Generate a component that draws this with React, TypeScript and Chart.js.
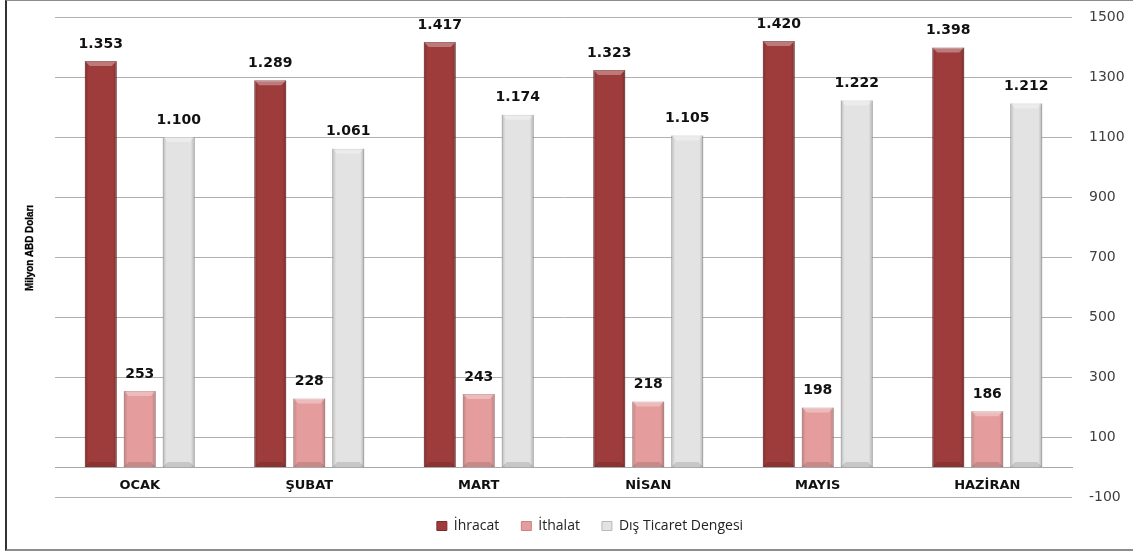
import React, { useEffect, useRef } from "react";
import { Chart, registerables } from "chart.js";

Chart.register(...registerables);

const categories = ["OCAK", "ŞUBAT", "MART", "NİSAN", "MAYIS", "HAZİRAN"];
const ihracat = [1353, 1289, 1417, 1323, 1420, 1398];
const ithalat = [253, 228, 243, 218, 198, 186];
const disTicaretDengesi = [1100, 1061, 1174, 1105, 1222, 1212];
const seriesNames = ["İhracat", "İthalat", "Dış Ticaret Dengesi"];
const yTicks = [-100, 100, 300, 500, 700, 900, 1100, 1300, 1500];
const yTitle = "Milyon ABD Doları";

const fmt = (v: number) => {
  const s = Math.abs(v).toString();
  const parts: string[] = [];
  for (let i = s.length; i > 0; i -= 3) parts.unshift(s.slice(Math.max(0, i - 3), i));
  return (v < 0 ? "-" : "") + parts.join(".");
};

const bevelPlugin = {
  id: "bevel",
  afterDatasetsDraw(chart: any) {
    const ctx = chart.ctx;
    chart.data.datasets.forEach((_ds: any, di: number) => {
      const meta = chart.getDatasetMeta(di);
      meta.data.forEach((bar: any) => {
        const { x, y, base, width } = bar.getProps(["x", "y", "base", "width"], true);
        const l = x - width / 2;
        const r = x + width / 2;
        const t = Math.min(y, base);
        const b = Math.max(y, base);
        const bv = 5;
        ctx.save();
        const g = ctx.createLinearGradient(l, 0, r, 0);
        g.addColorStop(0, "rgba(0,0,0,0.18)");
        g.addColorStop(0.12, "rgba(0,0,0,0.0)");
        g.addColorStop(0.88, "rgba(0,0,0,0.0)");
        g.addColorStop(1, "rgba(0,0,0,0.22)");
        ctx.fillStyle = g;
        ctx.fillRect(l, t, width, b - t);
        ctx.beginPath();
        ctx.moveTo(l, t);
        ctx.lineTo(r, t);
        ctx.lineTo(r - bv, t + bv);
        ctx.lineTo(l + bv, t + bv);
        ctx.closePath();
        ctx.fillStyle = "rgba(255,255,255,0.32)";
        ctx.fill();
        ctx.beginPath();
        ctx.moveTo(l, b);
        ctx.lineTo(r, b);
        ctx.lineTo(r - bv, b - bv);
        ctx.lineTo(l + bv, b - bv);
        ctx.closePath();
        ctx.fillStyle = "rgba(0,0,0,0.12)";
        ctx.fill();
        ctx.restore();
      });
    });
  },
};

const labelPlugin = {
  id: "valueLabels",
  afterDatasetsDraw(chart: any) {
    const ctx = chart.ctx;
    ctx.save();
    ctx.font = "bold 14px 'DejaVu Sans', sans-serif";
    ctx.fillStyle = "#111111";
    ctx.textAlign = "center";
    ctx.textBaseline = "middle";
    chart.data.datasets.forEach((ds: any, di: number) => {
      const meta = chart.getDatasetMeta(di);
      meta.data.forEach((bar: any, i: number) => {
        const { x, y } = bar.getProps(["x", "y"], true);
        ctx.fillText(fmt(ds.data[i]), x, y - 17);
      });
    });
    ctx.restore();
  },
};

const yTitlePlugin = {
  id: "yTitle",
  afterDraw(chart: any) {
    const ctx = chart.ctx;
    const ca = chart.chartArea;
    ctx.save();
    ctx.translate(30, (ca.top + ca.bottom) / 2 - 9);
    ctx.rotate(-Math.PI / 2);
    ctx.font = "bold 11.5px 'Liberation Sans', Arial, sans-serif";
    const w = ctx.measureText(yTitle).width;
    ctx.scale(86 / w, 1);
    ctx.fillStyle = "#000000";
    ctx.strokeStyle = "#000000";
    ctx.lineWidth = 0.35;
    ctx.textAlign = "center";
    ctx.textBaseline = "middle";
    ctx.fillText(yTitle, 0, 0);
    ctx.strokeText(yTitle, 0, 0);
    ctx.restore();
  },
};

export default function App() {
  const ref = useRef<HTMLCanvasElement | null>(null);
  useEffect(() => {
    if (!ref.current) return;
    const chart = new Chart(ref.current, {
      type: "bar",
      data: {
        labels: categories,
        datasets: [
          {
            label: seriesNames[0],
            data: ihracat,
            backgroundColor: "#9E3B3B",
            borderColor: "#7C2C2C",
            borderWidth: 1,
            categoryPercentage: 0.69,
            barPercentage: 0.82,
          },
          {
            label: seriesNames[1],
            data: ithalat,
            backgroundColor: "#E49C9C",
            borderColor: "#C88383",
            borderWidth: 1,
            categoryPercentage: 0.69,
            barPercentage: 0.82,
          },
          {
            label: seriesNames[2],
            data: disTicaretDengesi,
            backgroundColor: "#E3E3E3",
            borderColor: "#B9B9B9",
            borderWidth: 1,
            categoryPercentage: 0.69,
            barPercentage: 0.82,
          },
        ],
      },
      options: {
        responsive: false,
        animation: false,
        layout: { padding: { left: 55, right: 8, top: 17, bottom: 8 } },
        plugins: {
          tooltip: { enabled: false },
          legend: {
            position: "bottom",
            labels: {
              boxWidth: 10,
              boxHeight: 9,
              padding: 22,
              color: "#222222",
              font: { family: "'Open Sans', sans-serif", size: 14 },
            },
          },
        },
        scales: {
          x: {
            position: { y: 0 } as any,
            grid: { display: false, drawTicks: false },
            border: { display: true, color: "#A8A8A8", width: 1 },
            ticks: {
              padding: 11,
              color: "#111111",
              font: { family: "'DejaVu Sans', sans-serif", size: 13, weight: "bold" },
            },
          },
          y: {
            position: "right",
            min: -100,
            max: 1500,
            afterBuildTicks: (axis: any) => {
              axis.ticks = yTicks.map((v) => ({ value: v }));
            },
            afterFit: (axis: any) => {
              axis.width = 53;
              axis.paddingTop = 8;
              axis.paddingBottom = 8;
            },
            grid: { color: "#B0B0B0", drawTicks: false },
            border: { display: false },
            ticks: {
              padding: 17,
              crossAlign: "near",
              color: "#404040",
              font: { family: "'DejaVu Sans', sans-serif", size: 14 },
              callback: (v: any) => String(v),
            },
          },
        },
      },
      plugins: [bevelPlugin, labelPlugin, yTitlePlugin],
    });
    return () => chart.destroy();
  }, []);

  return (
    <div
      style={{
        position: "absolute",
        left: 0,
        top: 0,
        width: 1133,
        height: 551,
        overflow: "hidden",
        background: "#ffffff",
      }}
    >
      <canvas ref={ref} width={1133} height={551} style={{ position: "absolute", left: 0, top: 0 }} />
      <div
        style={{
          position: "absolute",
          left: 5,
          top: 0,
          width: 1140,
          height: 548,
          borderTop: "1px solid #8C8C8C",
          borderLeft: "2px solid #333333",
          borderBottom: "2px solid #8C8C8C",
          pointerEvents: "none",
        }}
      />
    </div>
  );
}
